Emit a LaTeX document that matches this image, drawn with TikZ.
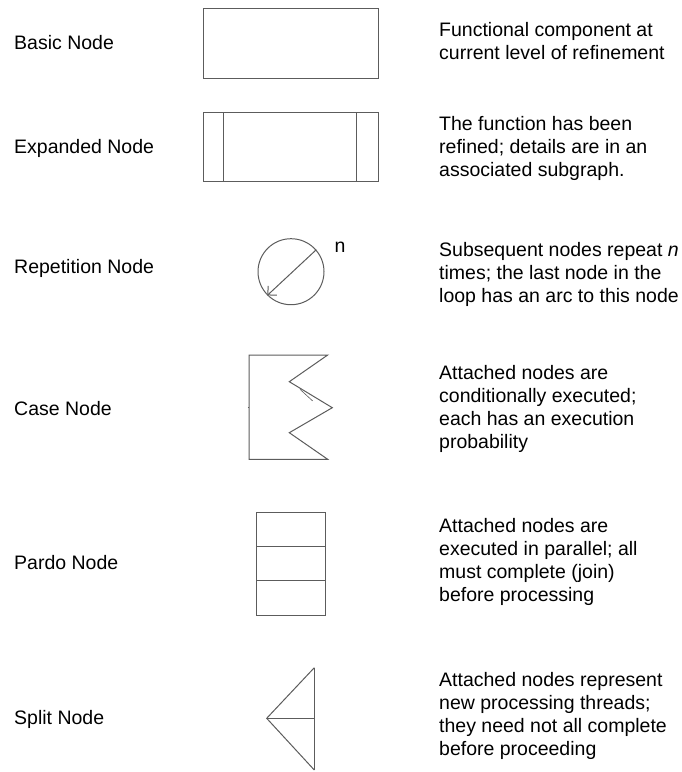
\documentclass[tikz,border=0pt]{standalone}
\usepackage{fontspec}
\setmainfont{Liberation Sans}
\usetikzlibrary{arrows.meta}
\definecolor{edgegray}{HTML}{5C5C5C}
\tikzset{
  shapeline/.style={draw=edgegray, line width=1pt},
  boxnode/.style={shapeline, rectangle, inner sep=0pt},
  label/.style={anchor=base west, inner sep=0pt, font=\fontsize{19.5}{23}\selectfont},
  descr/.style={anchor=base west, inner sep=0pt, font=\fontsize{19.5}{23}\selectfont},
}
\newcommand{\desclines}[1]{\begin{tabular}[t]{@{}l@{}}#1\end{tabular}}
\begin{document}
\begin{tikzpicture}[x=1pt, y=-1pt]
\useasboundingbox (0,0) rectangle (681,772);

% left-hand names
\node[label] (lbasic)  at (14,49)  {Basic Node};
\node[label] (lexp)    at (14,153) {Expanded Node};
\node[label] (lrep)    at (14,273) {Repetition Node};
\node[label] (lcase)   at (14,415) {Case Node};
\node[label] (lpardo)  at (14,569) {Pardo Node};
\node[label] (lsplit)  at (14,724) {Split Node};

% right-hand descriptions
\node[descr] (dbasic) at (439,36.7) {\desclines{Functional component at\\current level of refinement}};
\node[descr] (dexp) at (439,130) {\desclines{The function has been\\refined; details are in an\\associated subgraph.}};
\node[descr] (drep) at (439,256.7) {\desclines{Subsequent nodes repeat \textit{n}\\times; the last node in the\\loop has an arc to this node}};
\node[descr] (dcase) at (439,379.3) {\desclines{Attached nodes are\\conditionally executed;\\each has an execution\\probability}};
\node[descr] (dpardo) at (439,532) {\desclines{Attached nodes are\\executed in parallel; all\\must complete (join)\\before processing}};
\node[descr] (dsplit) at (439,686.7) {\desclines{Attached nodes represent\\new processing threads;\\they need not all complete\\before proceeding}};

% basic node
\node[boxnode, minimum width=175pt, minimum height=70pt] (basic) at (290.5,43) {};

% expanded node with side bars
\node[boxnode, minimum width=175pt, minimum height=69pt] (exp) at (290.5,147.2) {};
\draw[shapeline] ([xshift=21.3pt]exp.north west) -- ([xshift=21.3pt]exp.south west);
\draw[shapeline] ([xshift=-22pt]exp.north east) -- ([xshift=-22pt]exp.south east);

% repetition node
\node[shapeline, circle, minimum size=66pt, inner sep=0pt] (rep) at (291,271.7) {};
\draw[shapeline, -{Straight Barb[angle=90:9pt, line width=1pt]}] (rep.41) -- (rep.225);
\node[label] (repn) at (334.5,252.3) {n};

% case node
\coordinate (c1) at (249,355);
\coordinate (c2) at (327.7,355);
\coordinate (c3) at (289.3,381.7);
\coordinate (c4) at (332.3,407.7);
\coordinate (c5) at (289.3,432.7);
\coordinate (c6) at (327.7,459.3);
\coordinate (c7) at (249,459.3);
\draw[shapeline] (c1) -- (c2) -- (c3) -- (c4) -- (c5) -- (c6) -- (c7) -- cycle;
\draw[shapeline, line width=0.6pt] (300,389.3) -- (312.7,401);
\draw[shapeline] (247.8,407.7) -- (249,407.7);

% pardo node: one box split into three cells
\node[boxnode, minimum width=69.3pt, minimum height=103.6pt, anchor=north west] (pardo) at (256,511.7) {};
\draw[shapeline] ([yshift=-34.3pt]pardo.north west) -- ([yshift=-34.3pt]pardo.north east);
\draw[shapeline] ([yshift=-68.6pt]pardo.north west) -- ([yshift=-68.6pt]pardo.north east);

% split node
\coordinate (stop) at (314.3,667.7);
\coordinate (smid) at (314.3,718.3);
\coordinate (sbot) at (314.3,770);
\coordinate (sapex) at (266.7,718.3);
\draw[shapeline] (stop) -- (sbot);
\draw[shapeline] (stop) -- (sapex) -- (sbot);
\draw[shapeline] (sapex) -- (smid);
\end{tikzpicture}
\end{document}
